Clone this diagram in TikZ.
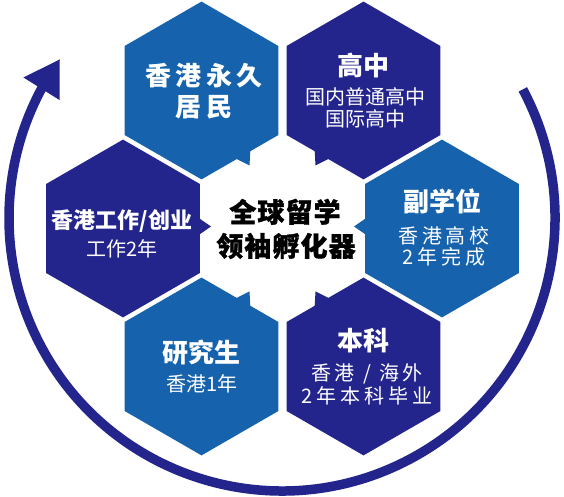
\documentclass[tikz,border=0pt]{standalone}
\usepackage{fontspec}
\newfontfamily\cjk{Noto Sans CJK SC}
\newfontfamily\cjkwide[LetterSpace=16]{Noto Sans CJK SC}
\newfontfamily\cjkspaced[LetterSpace=19]{Noto Sans CJK SC}
\newfontfamily\cjkheavy[FakeBold=1.2,LetterSpace=4]{Noto Sans CJK SC}
\usetikzlibrary{shapes.geometric,arrows.meta,bending,calc}
\definecolor{hexlight}{RGB}{22,98,172}
\definecolor{hexdark}{RGB}{36,37,140}
\definecolor{ringblue}{RGB}{36,37,140}
\tikzset{
  hexbox/.style={regular polygon, regular polygon sides=6, shape border rotate=30,
    minimum size=177.8pt, inner sep=0pt, draw=none},
  titletxt/.style={text=white, inner sep=0pt, text height=23pt, text depth=3pt,
    font=\cjk\bfseries\fontsize{26}{30}\selectfont},
  widetxt/.style={text=white, inner sep=0pt, text height=23pt, text depth=3pt,
    font=\cjkwide\bfseries\fontsize{26}{30}\selectfont},
  worktxt/.style={text=white, inner sep=0pt, text height=19.5pt, text depth=2.5pt,
    font=\cjk\bfseries\fontsize{22}{26}\selectfont},
  subtxt/.style={text=white, inner sep=0pt, text height=17.6pt, text depth=2.4pt,
    font=\cjk\fontsize{20}{24}\selectfont},
  spacedtxt/.style={text=white, inner sep=0pt, text height=17.6pt, text depth=2.4pt,
    font=\cjkspaced\fontsize{20}{24}\selectfont},
  centertxt/.style={text=black, inner sep=0pt, text height=23.5pt, text depth=3pt,
    font=\cjkheavy\bfseries\fontsize{27}{31}\selectfont},
  ring/.style={draw=ringblue, line width=9.5pt,
    -{Triangle[length=35pt,width=40pt,flex]}}
}
\begin{document}
\begin{tikzpicture}[x=1pt,y=1pt]
\useasboundingbox (0,0) rectangle (564,497);
% hexagons
\node[hexbox, fill=hexlight] (tl) at (201.5,406.5) {};
\node[hexbox, fill=hexdark]  (tr) at (363.5,406.5) {};
\node[hexbox, fill=hexdark]  (lf) at (123,268.5) {};
\node[hexbox, fill=hexlight] (rt) at (442,268.5) {};
\node[hexbox, fill=hexlight] (bl) at (201.5,130.5) {};
\node[hexbox, fill=hexdark]  (br) at (363.5,130.5) {};
% tails pointing to the centre
\fill[hexlight] ($(tl)+(32,-67)$) -- ($(tl)+(49,-57)$) -- ($(tl)+(48,-75)$) -- cycle;
\fill[hexdark]  ($(tr)+(-32,-67)$) -- ($(tr)+(-49,-57)$) -- ($(tr)+(-48,-75)$) -- cycle;
\fill[hexlight] ($(bl)+(32,67)$) -- ($(bl)+(49,57)$) -- ($(bl)+(48,75)$) -- cycle;
\fill[hexdark]  ($(br)+(-32,67)$) -- ($(br)+(-49,57)$) -- ($(br)+(-48,75)$) -- cycle;
\fill[hexdark]  ($(lf)+(75,11)$) -- ($(lf)+(88,2)$) -- ($(lf)+(75,-7)$) -- cycle;
\fill[hexlight] ($(rt)+(-75,11)$) -- ($(rt)+(-88,2)$) -- ($(rt)+(-75,-7)$) -- cycle;
% texts
\node[widetxt] (tla) at (204,421) {香港永久};
\node[widetxt] (tlb) at (204,390) {居民};
\node[titletxt] (tra) at (363.5,431) {高中};
\node[subtxt] (trb) at (365,400) {国内普通高中};
\node[subtxt] (trc) at (365,378) {国际高中};
\node[worktxt] (lfa) at (122,277) {香港工作/创业};
\node[subtxt] (lfb) at (122,248) {工作2年};
\node[centertxt] (cta) at (285,285) {全球留学};
\node[centertxt] (ctb) at (286,251) {领袖孵化器};
\node[titletxt] (rta) at (442,295) {副学位};
\node[spacedtxt] (rtb) at (444,261) {香港高校};
\node[spacedtxt] (rtc) at (444,240) {2年完成};
\node[titletxt] (bla) at (201.5,144) {研究生};
\node[subtxt] (blb) at (202,113) {香港1年};
\node[titletxt] (bra) at (363.5,156) {本科};
\node[spacedtxt] (brb) at (367,124) {香港 / 海外};
\node[spacedtxt] (brc) at (367,101) {2年本科毕业};
% ring arrow
\coordinate (ringstart) at (522.8,407.6);
\draw[ring] (ringstart) arc[start angle=28.1, end angle=-215.6, radius=273];
\end{tikzpicture}
\end{document}
